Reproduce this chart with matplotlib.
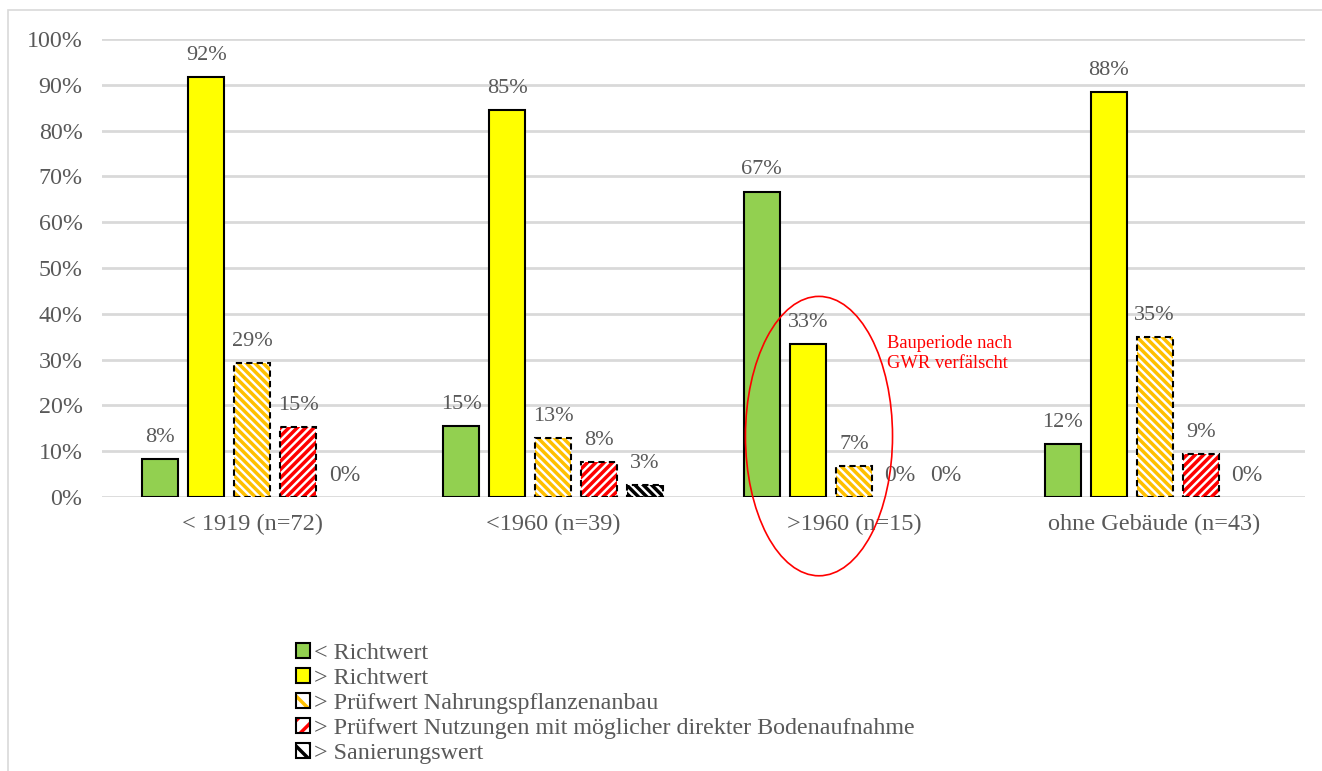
import numpy as np
import matplotlib.pyplot as plt
from matplotlib.patches import Patch, Ellipse, Rectangle
from matplotlib.legend_handler import HandlerTuple

plt.rcParams['font.family'] = ['Liberation Serif', 'DejaVu Serif']
plt.rcParams['hatch.linewidth'] = 2.5

categories = ["< 1919 (n=72)", "<1960 (n=39)", ">1960 (n=15)", "ohne Gebäude (n=43)"]
series_names = ["< Richtwert", "> Richtwert", "> Prüfwert Nahrungspflanzenanbau",
                "> Prüfwert Nutzungen mit möglicher direkter Bodenaufnahme",
                "> Sanierungswert"]
# percent of samples per building period
below_richtwert = [8.3, 15.4, 66.7, 11.6]
above_richtwert = [91.7, 84.6, 33.3, 88.4]
above_pw_nahrung = [29.2, 12.8, 6.7, 34.9]
above_pw_boden = [15.3, 7.7, 0.0, 9.3]
above_sanierung = [0.0, 2.6, 0.0, 0.0]

series = [below_richtwert, above_richtwert, above_pw_nahrung, above_pw_boden, above_sanierung]
styles = [
    dict(face="#92d050", hatch=None, hatchcol=None),
    dict(face="#ffff00", hatch=None, hatchcol=None),
    dict(face="white", hatch="\\\\\\\\", hatchcol="#ffc000"),
    dict(face="white", hatch="////", hatchcol="#ff0000"),
    dict(face="white", hatch="\\\\\\\\", hatchcol="black"),
]

text_col = "#595959"
grid_col = "#d9d9d9"

fig = plt.figure(figsize=(13.22, 7.71), dpi=100)
fig.patches.append(Rectangle((8 / 1322, -0.1), 1.1, 1 - 10 / 771 + 0.1, transform=fig.transFigure,
                             fill=False, edgecolor=grid_col, linewidth=1.2))
ax = fig.add_axes([102 / 1322, 1 - 497 / 771, 1203 / 1322, 458 / 771])

x = np.arange(len(categories))
step = 46 / 300.75
bw = 36 / 300.75
handles = []
for i, (vals, st) in enumerate(zip(series, styles)):
    pos = x + (i - 2) * step
    ecs = ["black" if v > 0 else "none" for v in vals]
    if st["hatch"] is None:
        ax.bar(pos, vals, bw, color=st["face"], edgecolor=ecs, linewidth=1.5, zorder=3)
        handles.append(Patch(facecolor=st["face"], edgecolor="black", linewidth=1.5))
    else:
        ax.bar(pos, vals, bw, color="white", edgecolor=st["hatchcol"], hatch=st["hatch"],
               linewidth=0, zorder=3)
        ax.bar(pos, vals, bw, fill=False, edgecolor=ecs, linewidth=1.5, linestyle=(0, (3, 2)), zorder=4)
        p1 = Patch(facecolor="white", edgecolor=st["hatchcol"], hatch="\\\\" if "\\" in st["hatch"] else "//", linewidth=0)
        p2 = Patch(fill=False, edgecolor="black", linewidth=1.5)
        handles.append((p1, p2))
    for j, v in enumerate(vals):
        if i == 3 and v == 0 and j != 2:
            continue
        if i == 4 and v == 0 and j == 1:
            continue
        ax.annotate(f"{v:.0f}%", (pos[j], v), xytext=(0, 15.5), textcoords="offset points",
                    ha="center", va="center", fontsize=16 if v > 0 else 17, color=text_col)

ax.set_ylim(0, 100)
ax.set_xlim(-0.5, len(categories) - 0.5)
ax.set_yticks(np.arange(0, 101, 10))
ax.set_yticklabels([f"{t}%" for t in range(0, 101, 10)])
ax.set_xticks(x)
ax.set_xticklabels(categories)
ax.tick_params(axis="both", length=0, labelcolor=text_col)
ax.tick_params(axis="y", pad=14, labelsize=17.3)
ax.tick_params(axis="x", pad=12, labelsize=17.5)
ax.grid(axis="y", color=grid_col, linewidth=2)
ax.set_axisbelow(True)
for s in ax.spines.values():
    s.set_visible(False)

ell = Ellipse((1.884, 13.3), 0.489, 61, fill=False, edgecolor="red", linewidth=1.2, clip_on=False, zorder=5)
ax.add_patch(ell)
ax.text(2.11, 31.3, "Bauperiode nach\nGWR verfälscht", color="red", fontsize=13.3,
        ha="left", va="center", linespacing=1.2)

fig.legend(handles, series_names, loc="upper left", bbox_to_anchor=(296 / 1322, 1 - 643 / 771),
           frameon=False, fontsize=17.3, labelcolor=text_col, handlelength=0.6, handleheight=0.6,
           handletextpad=0.15, labelspacing=0.16, borderpad=0, borderaxespad=0,
           handler_map={tuple: HandlerTuple(ndivide=1)})

fig.savefig("out.png", dpi=100)
